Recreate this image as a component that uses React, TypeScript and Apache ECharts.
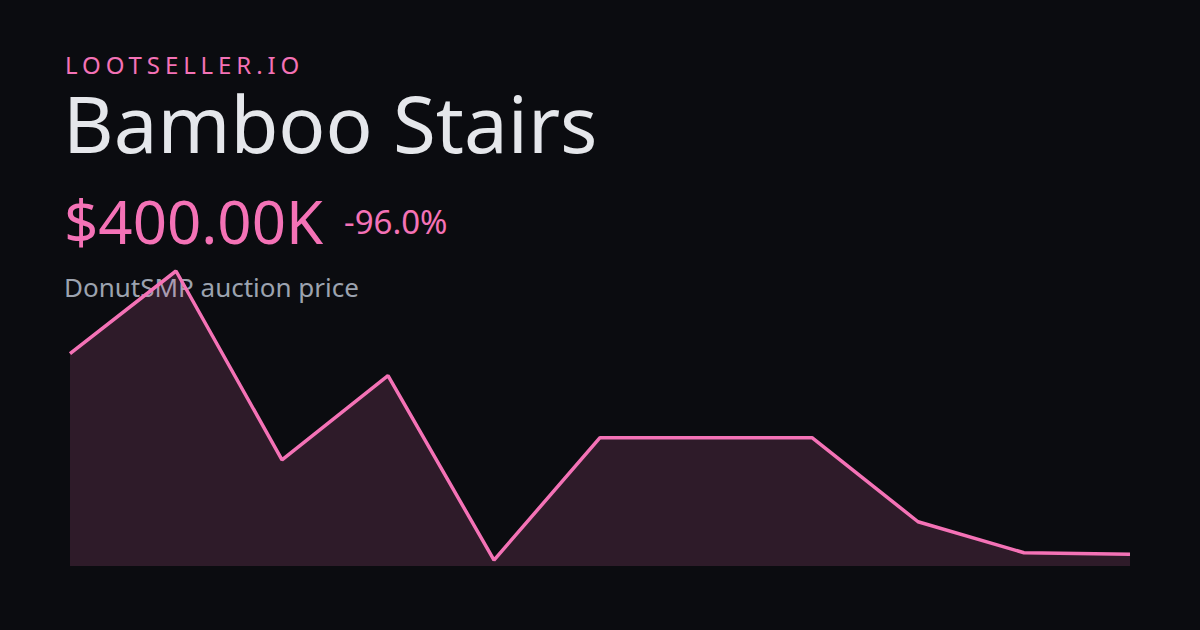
import React, { useEffect, useRef } from "react";
import * as echarts from "echarts";

const categories = ["1", "2", "3", "4", "5", "6", "7", "8", "9", "10", "11"];
// price in millions
const prices = [7.2, 10.0, 3.6, 6.45, 0.2, 4.35, 4.35, 4.35, 1.5, 0.45, 0.4];

const brandText = "LOOTSELLER.IO";
const titleText = "Bamboo Stairs";
const priceText = "$400.00K";
const changeText = "-96.0%";
const subtitleText = "DonutSMP auction price";

const PINK = "#f472b6";
const BG = "#0b0c10";

export default function App() {
  const ref = useRef<HTMLDivElement>(null);
  useEffect(() => {
    document.body.style.margin = "0";
    document.body.style.background = BG;
    const chart = echarts.init(ref.current!, undefined, { renderer: "svg" });
    const font = "'Noto Sans', sans-serif";
    chart.setOption({
      animation: false,
      backgroundColor: BG,
      grid: { left: 70, right: 70, top: 271, bottom: 64 },
      xAxis: { type: "category", data: categories, boundaryGap: false, show: false },
      yAxis: { type: "value", min: 0, max: 10, show: false },
      graphic: [
        {
          type: "text", z: 0, x: 65, y: 64.7,
          style: { text: brandText, fill: PINK, fontSize: 24, lineHeight: 18, fontFamily: "'Noto Sans', NotoLS, sans-serif", verticalAlign: "middle", align: "left" },
        },
        {
          type: "text", z: 0, x: 63, y: 122.5,
          style: { text: titleText, fill: "#e5e7eb", fontSize: 78, lineHeight: 60, fontFamily: font, verticalAlign: "middle", align: "left" },
        },
        {
          type: "text", z: 0, x: 64, y: 220.7,
          style: { text: priceText, fill: PINK, fontSize: 60, lineHeight: 46, fontFamily: font, verticalAlign: "middle", align: "left" },
        },
        {
          type: "text", z: 0, x: 344, y: 221.2,
          style: { text: changeText, fill: PINK, fontSize: 33, lineHeight: 26, fontFamily: font, verticalAlign: "middle", align: "left" },
        },
        {
          type: "text", z: 0, x: 64, y: 286.9,
          style: { text: subtitleText, fill: "#9ca3af", fontSize: 26, lineHeight: 20, fontFamily: font, verticalAlign: "middle", align: "left" },
        },
      ],
      series: [
        {
          type: "line",
          data: prices,
          z: 10,
          symbol: "none",
          lineStyle: { color: PINK, width: 3.5 },
          itemStyle: { color: PINK },
          areaStyle: { color: "rgba(244,114,182,0.22)" },
        },
      ],
    });
    return () => chart.dispose();
  }, []);
  return (
    <>
      <style>{`text[style*="NotoLS"]{letter-spacing:4.9px;}`}</style>
      <div ref={ref} style={{ position: "fixed", left: 0, top: 0, width: 1200, height: 630 }} />
    </>
  );
}
